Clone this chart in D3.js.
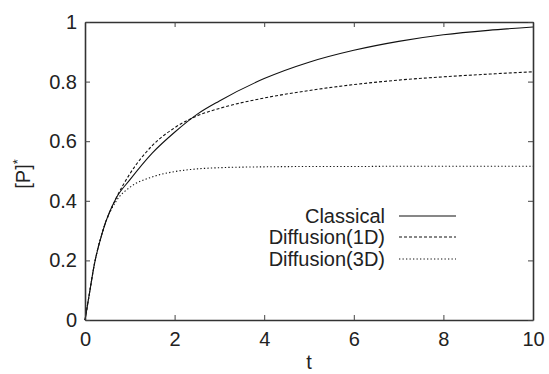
<!DOCTYPE html>
<html>
<head>
<meta charset="utf-8">
<title>[P]* vs t</title>
<script src="https://cdn.jsdelivr.net/npm/d3@7"></script>
<style>
  body { margin: 0; background: #fff; }
  svg text { font-family: "Liberation Sans", Arial, sans-serif; fill: #222; }
</style>
</head>
<body>
<svg id="chart" width="549" height="374"></svg>
<script>
// values
const tVals = [0, 0.1, 0.2, 0.4, 0.7, 1, 1.5, 2, 2.5, 3, 4, 5, 6, 7, 8, 9, 10];
const classical = [0, 0.09, 0.18, 0.3, 0.41, 0.47, 0.56, 0.63, 0.69, 0.735, 0.81, 0.865, 0.905, 0.935, 0.957, 0.972, 0.983];
const diff1D    = [0, 0.09, 0.18, 0.3, 0.41, 0.49, 0.585, 0.645, 0.685, 0.71, 0.745, 0.77, 0.79, 0.805, 0.816, 0.825, 0.833];
const diff3D    = [0, 0.09, 0.18, 0.3, 0.40, 0.445, 0.48, 0.498, 0.507, 0.511, 0.514, 0.515, 0.515, 0.516, 0.516, 0.516, 0.516];
const seriesNames = ["Classical", "Diffusion(1D)", "Diffusion(3D)"];
const xTicks = [0, 2, 4, 6, 8, 10];
const yTicks = [0, 0.2, 0.4, 0.6, 0.8, 1];

const svg = d3.select("#chart");
const mLeft = 85, mRight = 533, mTop = 22, mBottom = 320;

const x = d3.scaleLinear().domain([0, 10]).range([mLeft, mRight]);
const y = d3.scaleLinear().domain([0, 1]).range([mBottom, mTop]);

const dashes = [null, "3,2", "1.3,2.2"];
const all = [classical, diff1D, diff3D];

const line = d3.line()
  .x(function(d, i) { return x(tVals[i]); })
  .y(function(d) { return y(d); })
  .curve(d3.curveMonotoneX);

all.forEach(function(s, k) {
  svg.append("path")
    .attr("d", line(s))
    .attr("fill", "none")
    .attr("stroke", "#111")
    .attr("stroke-width", 1.1)
    .attr("stroke-dasharray", dashes[k]);
});

// frame with inward ticks on every side
const fontSize = 20;
const tl = 5;
function fmt(v) { return v === 0 || v === 1 ? String(v) : d3.format(".1f")(v); }

const axB = d3.axisBottom(x).tickValues(xTicks).tickSizeInner(-tl).tickSizeOuter(0).tickPadding(12);
const axT = d3.axisTop(x).tickValues(xTicks).tickSizeInner(-tl).tickSizeOuter(0).tickFormat("");
const axL = d3.axisLeft(y).tickValues(yTicks).tickSizeInner(-tl).tickSizeOuter(0).tickPadding(8).tickFormat(fmt);
const axR = d3.axisRight(y).tickValues(yTicks).tickSizeInner(-tl).tickSizeOuter(0).tickFormat("");

[[axB, "translate(0," + mBottom + ")"], [axT, "translate(0," + mTop + ")"],
 [axL, "translate(" + mLeft + ",0)"], [axR, "translate(" + mRight + ",0)"]].forEach(function(a) {
  const g = svg.append("g").attr("transform", a[1]).call(a[0]);
  g.select(".domain").attr("stroke", "#333").attr("stroke-width", 1.6);
  g.selectAll(".tick line").attr("stroke", "#444").attr("stroke-width", 1);
  g.selectAll(".tick text").attr("font-size", fontSize).attr("fill", "#222")
    .attr("font-family", "Liberation Sans, Arial, sans-serif");
});

// axis titles
svg.append("text").attr("x", x(5)).attr("y", 369).attr("text-anchor", "middle")
  .attr("font-size", fontSize).text("t");
const yl = svg.append("text").attr("transform", "translate(30,174) rotate(-90)")
  .attr("text-anchor", "middle").attr("font-size", fontSize);
yl.append("tspan").text("[P]");
yl.append("tspan").attr("dy", -8).attr("font-size", 13).text("*");

// legend
const legY = [216, 237, 259];
seriesNames.forEach(function(name, k) {
  svg.append("text").attr("x", 385).attr("y", legY[k]).attr("dy", "0.35em")
    .attr("text-anchor", "end").attr("font-size", fontSize).text(name);
  svg.append("line").attr("x1", 399).attr("x2", 456).attr("y1", legY[k]).attr("y2", legY[k])
    .attr("stroke", "#111").attr("stroke-width", 1.1).attr("stroke-dasharray", dashes[k]);
});
</script>
</body>
</html>
